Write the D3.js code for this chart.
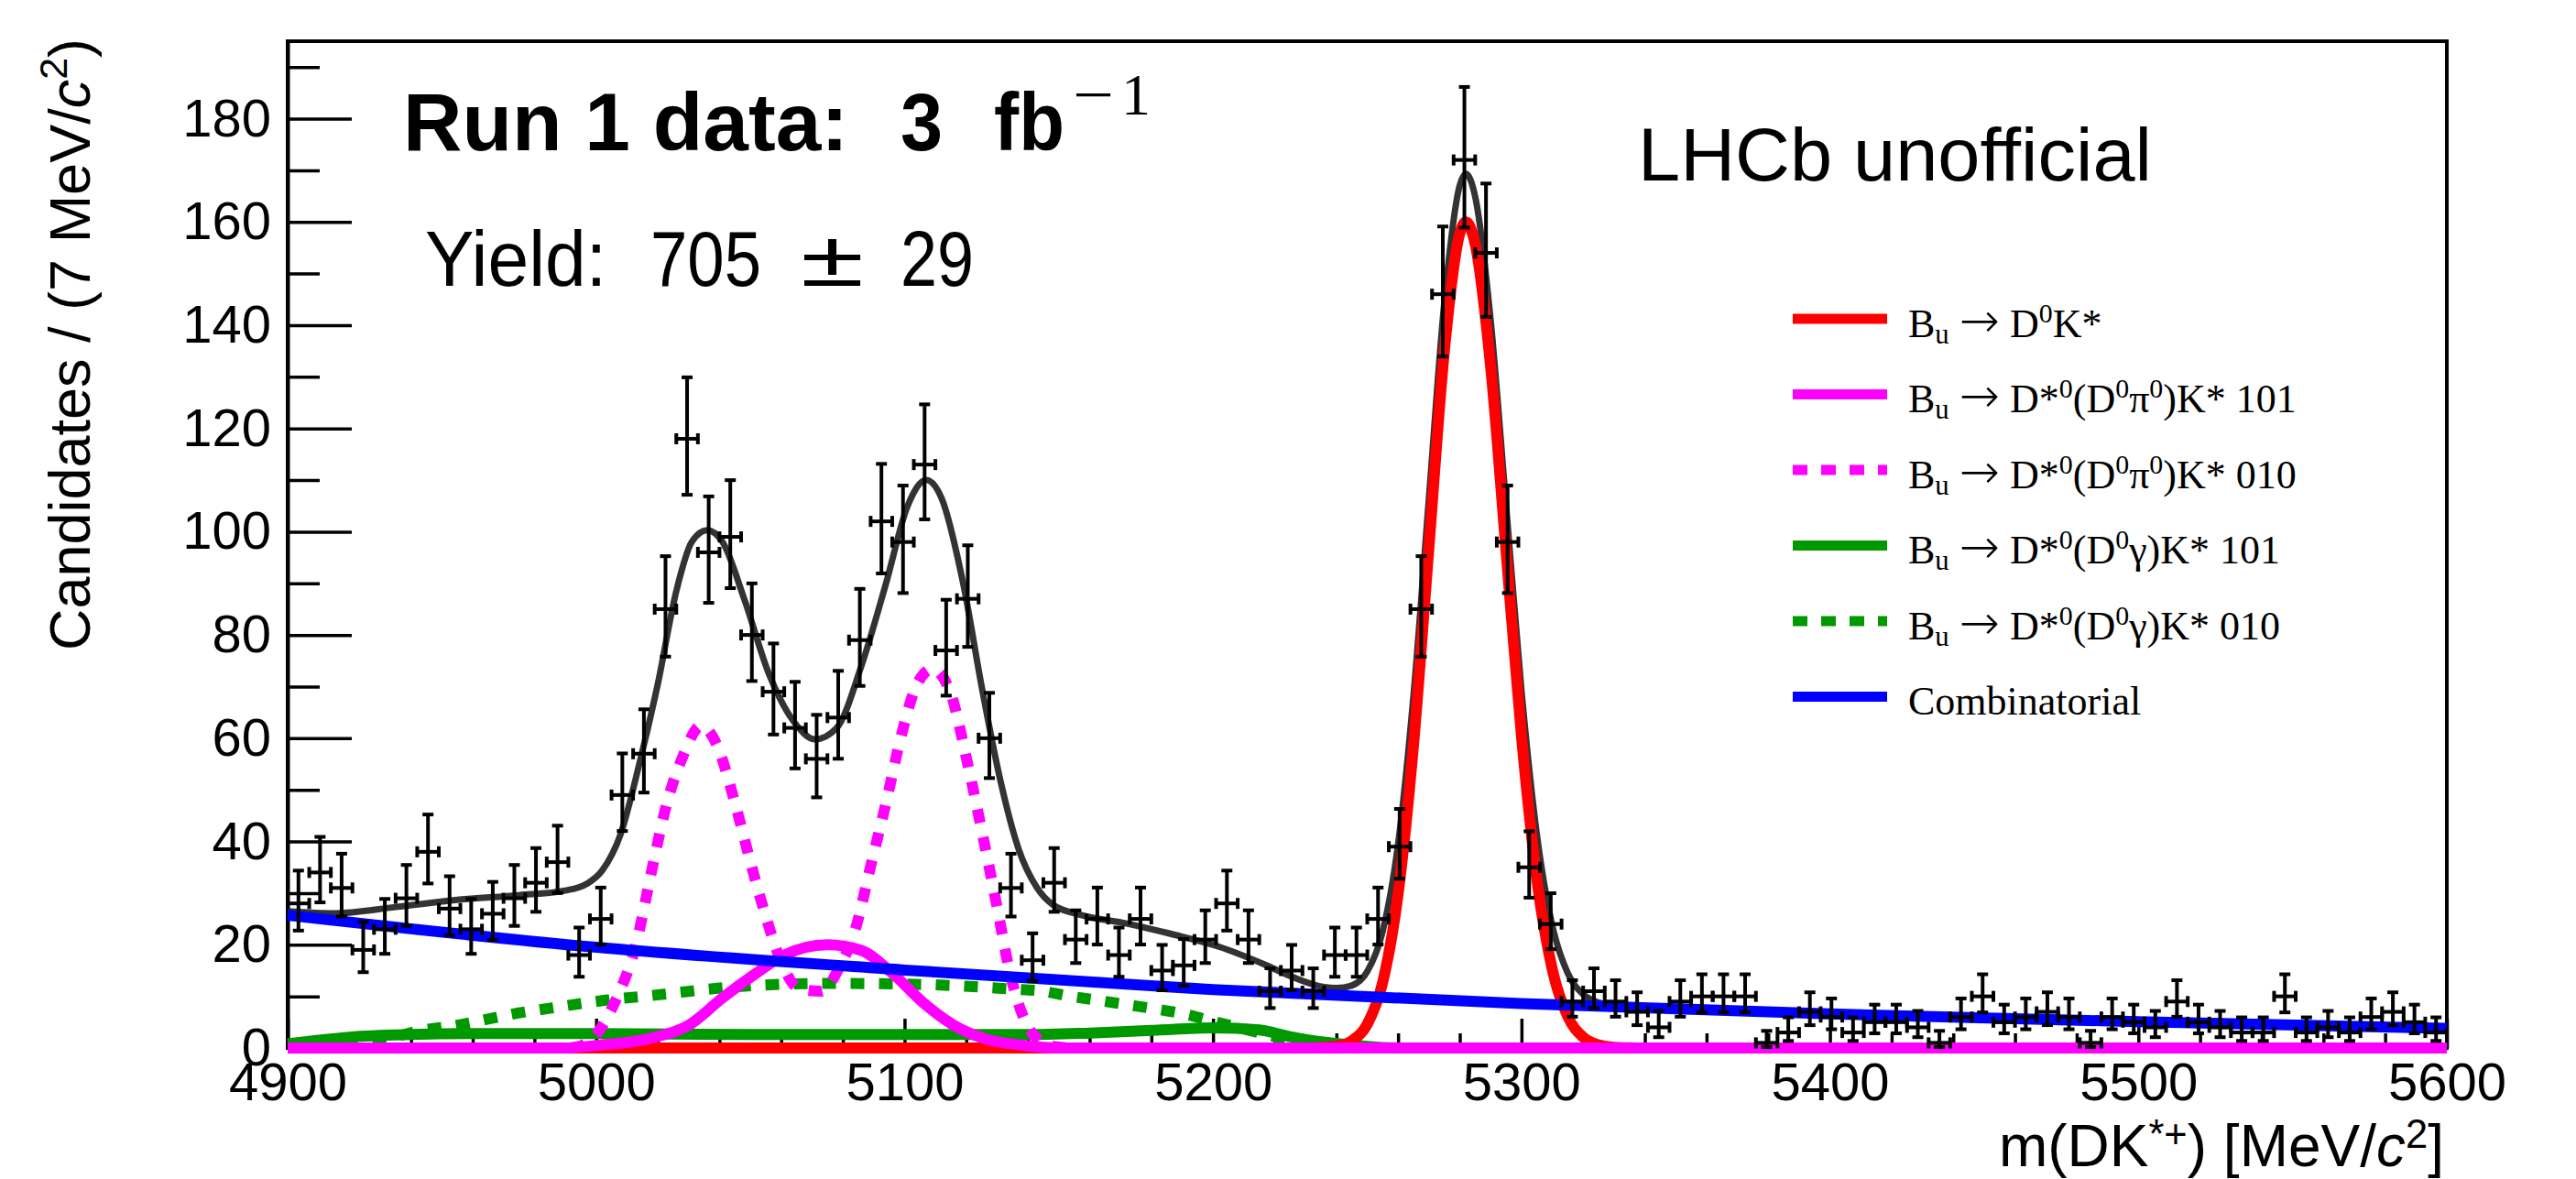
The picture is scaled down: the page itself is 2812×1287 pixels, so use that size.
<!DOCTYPE html>
<html>
<head>
<meta charset="UTF-8">
<title>B -> D K* mass fit</title>
<script src="https://d3js.org/d3.v7.min.js"></script>
<style>
  body { margin: 0; background: #fff; }
  svg { display: block; }
  .axis .domain { stroke: #000; stroke-width: 4; }
  .axis .tick line { stroke: #000; stroke-width: 3.5; }
</style>
</head>
<body>
<svg id="chart" width="2812" height="1287"></svg>
<script>
// ---- data ----
var binLow = 4900, binWidth = 7;
// candidates per 7 MeV bin, 4900..5600
var counts = [28,34,31,19,23,29,38,27,23,26,
              29,32,36,18,25,49,57,85,118,96,
              99,80,69,62,56,64,79,102,98,113,
              77,87,60,31,17,32,21,25,18,25,
              15,16,21,28,21,11,15,11,18,18,
              25,39,85,146,172,154,98,35,24,9,
              11,9,7,4,9,10,10,10,1,3,
              7,6,3,5,5,4,1,6,10,5,
              6,7,6,1,6,5,4,9,5,4,
              3,3,10,3,4,3,6,7,5,3];

var xTicks = [4900, 5000, 5100, 5200, 5300, 5400, 5500, 5600];
var yTicks = [0, 20, 40, 60, 80, 100, 120, 140, 160, 180];

// total fit (dark grey)
var totalMass = [4900,4915,4935,4955,4975,4990,4997,5002,5008,5014,5020,5026,5031,5036,5041,5048,5056,5064,5071,5078,
                 5086,5094,5101,5107,5112,5119,5125,5131,5137,5143,5148,5157,5172,5187,5202,5217,5226,5236,5240,5245,
                 5250,5255,5260,5265,5270,5275,5280,5282,5285,5290,5295,5300,5305,5310,5315,5320,5325,5330,5340,5400,5500,5600];
var totalFit  = [26.5,26.1,27.3,28.7,29.6,30.5,31.8,34.4,41.5,55,70.5,88.5,98,100.3,98,87,72.5,63.3,59.8,62,
                 74,90,105,110,106.5,90,70,52,38.5,31,27.8,25.8,24.1,22,19.6,16.1,13.7,11.8,11.6,12.1,
                 14.8,22.6,39.5,68.3,106.5,144.4,167.1,169.3,164.9,141,105.2,69.2,41.3,23.7,14.5,10.4,8.8,8.2,7.9,6.6,5.1,3.8];

// B -> D0 K* (red)
var d0kMass = [4900,5230,5240,5245,5250,5255,5260,5265,5270,5275,5280,5282,5285,5290,5295,5300,5305,5310,5315,5320,5325,5330,5340,5600];
var d0kFit  = [0,0,0.35,1.4,4.6,12.7,29.8,58.7,97,135,157.8,160,155.7,132,96.3,60.4,32.6,15.2,6.1,2.1,0.6,0.15,0,0];

// B -> D*0(D0 pi0) K* 101 (magenta solid)
var pi101Mass = [4900,4990,5000,5017,5030,5041,5051,5061,5075,5086,5096,5106,5116,5126,5139,5150,5600];
var pi101Fit  = [0,0,0.5,1.8,4.4,9.7,14.1,18,20,18.9,14.5,8.8,4.4,1.8,0.5,0,0];

// B -> D*0(D0 pi0) K* 010 (magenta dashed)
var pi010Mass = [4900,4990,4995,5000,5006,5013,5018,5023,5028,5034,5039,5045,5050,5055,5060,5066,5073,5079,5084,5089,
                 5094,5099,5104,5109,5115,5120,5125,5130,5134,5139,5143,5148,5155,5600];
var pi010Fit  = [0,0,0.4,2.6,8.8,20.2,34.3,47.5,56.3,62.4,58.9,47.5,36.1,25.5,16.7,11.4,11,15.8,22.9,35.2,
                 47.5,60.7,70.4,73.4,68.6,56.3,42.2,27.3,15,5.3,1.8,0.3,0,0];

// B -> D*0(D0 gamma) K* 101 (green solid)
var gam101Mass = [4900,4910,4920,4940,4965,5000,5050,5100,5140,5160,5180,5200,5215,5225,5235,5245,5255,5265,5600];
var gam101Fit  = [0.8,1.5,2.1,2.6,2.8,2.8,2.6,2.6,2.6,2.9,3.4,3.9,3.5,2.2,1.2,0.6,0.1,0,0];

// B -> D*0(D0 gamma) K* 010 (green dashed)
var gam010Mass = [4900,4915,4925,4935,4943,4955,4965,4975,4985,4995,5005,5017,5046,5076,5106,5135,5145,5152,5162,5172,
                  5182,5192,5198,5206,5218,5230,5240,5250,5600];
var gam010Fit  = [0,0.2,0.9,2.2,3.4,4.4,5.6,6.8,7.7,8.6,9.4,10.1,11.9,12.5,12.3,11.4,11,10.2,9.3,8.4,
                  7.5,6.4,5.5,4.3,2.5,0.8,0.1,0,0];

// combinatorial (blue)
var combMass = [4900,5000,5100,5200,5300,5400,5500,5600];
var combFit  = [25.7,19.5,15.1,11.3,8.6,6.6,5.1,3.8];

var legendLabels = [
  [["B"],["u","sub"],[" "],["\u2192","arrow"],[" D"],["0","sup"],["K*"]],
  [["B"],["u","sub"],[" "],["\u2192","arrow"],[" D*"],["0","sup"],["(D"],["0","sup"],["\u03c0"],["0","sup"],[")K* 101"]],
  [["B"],["u","sub"],[" "],["\u2192","arrow"],[" D*"],["0","sup"],["(D"],["0","sup"],["\u03c0"],["0","sup"],[")K* 010"]],
  [["B"],["u","sub"],[" "],["\u2192","arrow"],[" D*"],["0","sup"],["(D"],["0","sup"],["\u03b3)K* 101"]],
  [["B"],["u","sub"],[" "],["\u2192","arrow"],[" D*"],["0","sup"],["(D"],["0","sup"],["\u03b3)K* 010"]],
  [["Combinatorial"]]
];
var legendColors = ["#ff0000", "#ff00ff", "#ff00ff", "#009900", "#009900", "#0000ff"];
var legendDashed = [false, false, true, false, true, false];

// ---- drawing ----
var sans = "'Liberation Sans', Arial, Helvetica, sans-serif";
var serif = "'Liberation Serif', 'Times New Roman', serif";

var svg = d3.select("#chart");
var fr = {left: 314, right: 2671, top: 45, bottom: 1144};

var x = d3.scaleLinear().domain([4900, 5600]).range([fr.left, fr.right]);
var y = d3.scaleLinear().domain([0, 195]).range([fr.bottom, fr.top]);

// rich text helper: parts = [[text, kind]]
function richText(t, parts, size, supRise, subDrop) {
  var shift = 0;
  parts.forEach(function(p) {
    var ts = t.append("tspan").text(p[0]);
    var target = 0;
    if (p[1] === "sup") { target = -supRise; ts.attr("font-size", 0.68 * size); }
    if (p[1] === "sub") { target = subDrop; ts.attr("font-size", 0.7 * size); }
    if (p[1] === "it") ts.attr("font-style", "italic");
    if (p[1] === "arrow") ts.attr("font-family", "'DejaVu Sans', sans-serif")
                            .attr("font-weight", 200).attr("font-size", 1.2 * size);
    ts.attr("dy", target - shift);
    shift = target;
  });
}

// frame
svg.append("rect")
  .attr("x", fr.left).attr("y", fr.top)
  .attr("width", fr.right - fr.left).attr("height", fr.bottom - fr.top)
  .attr("fill", "none").attr("stroke", "#000").attr("stroke-width", 4);

// axes, ticks inside the frame like ROOT
svg.append("g").attr("class", "axis")
  .attr("transform", "translate(0," + fr.bottom + ")")
  .call(d3.axisBottom(x).tickValues(xTicks).tickSizeInner(-32).tickSizeOuter(0)
        .tickPadding(16).tickFormat(d3.format("d")));
svg.append("g").attr("class", "axis")
  .attr("transform", "translate(0," + fr.bottom + ")")
  .call(d3.axisBottom(x).tickValues(d3.range(4920, 5600, 20).filter(function(v){ return v % 100 !== 0; }))
        .tickSizeInner(-16).tickSizeOuter(0).tickFormat(""))
  .select(".domain").remove();

svg.append("g").attr("class", "axis")
  .attr("transform", "translate(" + fr.left + ",0)")
  .call(d3.axisLeft(y).tickValues(yTicks).tickSizeInner(-70).tickSizeOuter(0)
        .tickPadding(18).tickFormat(d3.format("d")));
svg.append("g").attr("class", "axis")
  .attr("transform", "translate(" + fr.left + ",0)")
  .call(d3.axisLeft(y).tickValues(d3.range(10, 195, 20)).tickSizeInner(-35).tickSizeOuter(0).tickFormat(""))
  .select(".domain").remove();

svg.selectAll(".axis text").attr("font-family", sans).attr("font-size", 58);

// axis titles
var yt = svg.append("text")
  .attr("transform", "translate(98,42) rotate(-90)")
  .attr("text-anchor", "end").attr("font-family", sans).attr("font-size", 63);
richText(yt, [["Candidates / (7 MeV/"], ["c", "it"], ["2", "sup"], [")"]], 63, 25, 0);

var xt = svg.append("text")
  .attr("x", 2668).attr("y", 1273)
  .attr("text-anchor", "end").attr("font-family", sans).attr("font-size", 64);
richText(xt, [["m(DK"], ["*+", "sup"], [") [MeV/"], ["c", "it"], ["2", "sup"], ["]"]], 64, 20, 0);

// fit curves
var line = d3.line()
  .x(function(d) { return x(d[0]); })
  .y(function(d) { return y(d[1]); })
  .curve(d3.curveMonotoneX);

function curve(mass, vals, color, width, dash) {
  svg.append("path")
    .attr("d", line(d3.zip(mass, vals)))
    .attr("fill", "none")
    .attr("stroke", color)
    .attr("stroke-width", width)
    .attr("stroke-dasharray", dash ? "15,16" : null)
    .attr("stroke-linejoin", "round");
}

curve(totalMass, totalFit, "#333333", 7, false);
curve(gam101Mass, gam101Fit, legendColors[3], 12, false);
curve(gam010Mass, gam010Fit, legendColors[4], 12, true);
curve(d0kMass, d0kFit, legendColors[0], 12, false);
curve(pi101Mass, pi101Fit, legendColors[1], 12, false);
curve(pi010Mass, pi010Fit, legendColors[2], 12, true);
curve(combMass, combFit, legendColors[5], 12, false);

// data points with asymmetric Poisson errors (as ROOT draws them)
function errUp(n) { return 1 + Math.sqrt(n + 0.75); }
function errLow(n) { var a = 1 - 1 / (9 * n) - 1 / (3 * Math.sqrt(n)); return n - n * a * a * a; }

var pts = svg.append("g").attr("stroke", "#000").attr("stroke-width", 4)
  .selectAll("g").data(counts).join("g");

pts.each(function(n, i) {
  var g = d3.select(this);
  var m = binLow + binWidth * (i + 0.5);
  var cx = x(m), cy = y(n);
  var y1 = y(n + errUp(n)), y0 = y(n - errLow(n));
  var xl = x(m - binWidth / 2), xr = x(m + binWidth / 2);
  var c = 6;
  g.append("line").attr("x1", cx).attr("x2", cx).attr("y1", y1).attr("y2", y0);
  g.append("line").attr("x1", xl).attr("x2", xr).attr("y1", cy).attr("y2", cy);
  g.append("line").attr("x1", cx - c).attr("x2", cx + c).attr("y1", y1).attr("y2", y1);
  g.append("line").attr("x1", cx - c).attr("x2", cx + c).attr("y1", y0).attr("y2", y0);
  g.append("line").attr("x1", xl).attr("x2", xl).attr("y1", cy - c).attr("y2", cy + c);
  g.append("line").attr("x1", xr).attr("x2", xr).attr("y1", cy - c).attr("y2", cy + c);
});

// labels
var runParts = [["Run 1 data:", 440, 486], ["3", 983, 46], ["fb", 1085, 77]];
var run = svg.append("text").attr("font-family", sans).attr("font-weight", "bold")
  .attr("font-size", 89).attr("y", 164);
runParts.forEach(function(p) {
  run.append("tspan").attr("x", p[1]).attr("textLength", p[2])
    .attr("lengthAdjust", "spacingAndGlyphs").text(p[0]);
});
var sup = svg.append("text").attr("font-family", serif).attr("font-size", 64).attr("y", 125);
sup.append("tspan").attr("x", 1171).attr("textLength", 45).attr("lengthAdjust", "spacingAndGlyphs").text("\u2212");
sup.append("tspan").attr("x", 1224).text("1");

var yieldParts = [["Yield:", 464, 198], ["705", 710, 121], ["\u00b1", 874, 69], ["29", 983, 80]];
var yl = svg.append("text").attr("font-family", sans).attr("font-size", 86).attr("y", 312);
yieldParts.forEach(function(p) {
  yl.append("tspan").attr("x", p[1]).attr("textLength", p[2])
    .attr("lengthAdjust", "spacingAndGlyphs").text(p[0]);
});

svg.append("text").attr("x", 1788).attr("y", 197)
  .attr("font-family", sans).attr("font-size", 82)
  .attr("textLength", 561).attr("lengthAdjust", "spacingAndGlyphs")
  .text("LHCb unofficial");

// legend
var leg = svg.append("g");
legendLabels.forEach(function(parts, i) {
  var ly = 348 + 82.5 * i;
  leg.append("line")
    .attr("x1", 1957).attr("x2", 2060).attr("y1", ly).attr("y2", ly)
    .attr("stroke", legendColors[i]).attr("stroke-width", 11)
    .attr("stroke-dasharray", legendDashed[i] ? "16,15" : null);
  var t = leg.append("text").attr("x", 2083).attr("y", ly + 19.5)
    .attr("font-family", serif).attr("font-size", 44);
  richText(t, parts, 44, 16, 7);
});
</script>
</body>
</html>
